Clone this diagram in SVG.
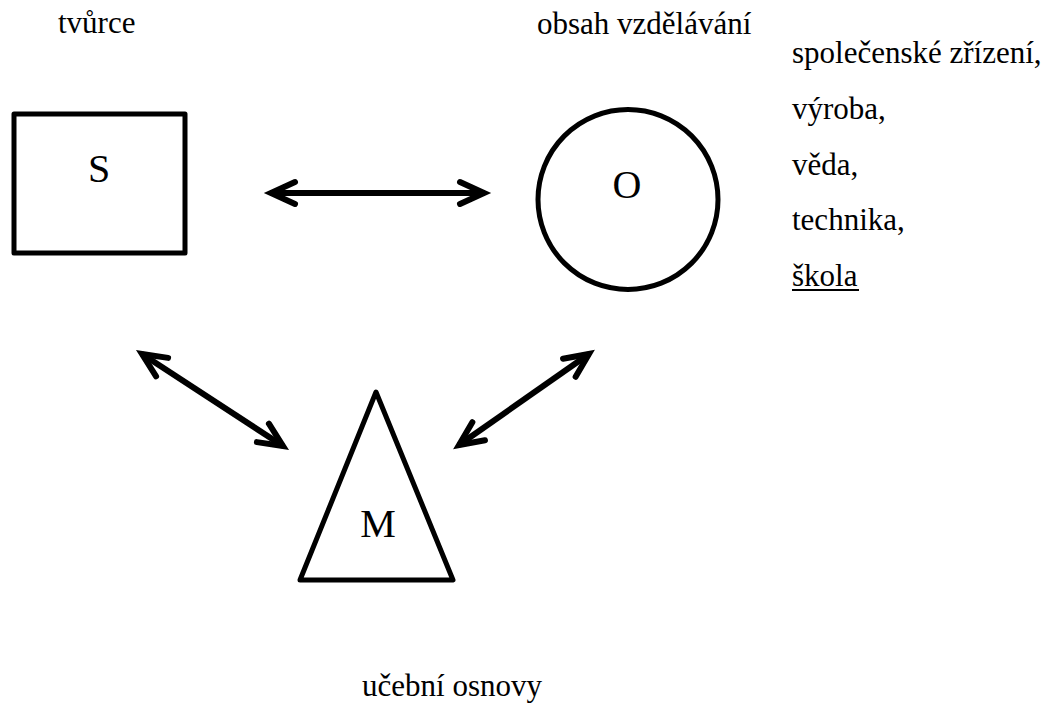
<svg xmlns="http://www.w3.org/2000/svg" width="1050" height="704" viewBox="0 0 1050 704">
<style>
  text { font-family: 'Liberation Serif', 'Times New Roman', serif; fill: #000; }
  .lbl { font-size: 31px; }
  .big { font-size: 40px; text-anchor: middle; }
  .shape { fill: #fff; stroke: #000; stroke-width: 5; stroke-linejoin: round; }
  .conn { stroke: #000; stroke-width: 6; fill: none; }
</style>
<defs>
  <marker id="ah" markerUnits="userSpaceOnUse" viewBox="-30 -16 34 32" refX="0" refY="0" markerWidth="34" markerHeight="32" orient="auto-start-reverse" overflow="visible">
    <path d="M-24,-11 L0,0 L-24,11" fill="none" stroke="#000" stroke-width="6" stroke-linecap="round" stroke-linejoin="miter" stroke-miterlimit="10"/>
  </marker>
</defs>
<rect width="1050" height="704" fill="#fff"/>
<g id="node-S">
  <rect class="shape" x="14" y="114" width="171" height="139" stroke-linejoin="miter"/>
  <text class="big" x="99" y="182">S</text>
</g>
<g id="node-O">
  <circle class="shape" cx="628" cy="199.5" r="90"/>
  <text class="big" x="627" y="198">O</text>
</g>
<g id="node-M">
  <polygon class="shape" points="376,392 453,580 300,580"/>
  <text class="big" x="378" y="537">M</text>
</g>
<g id="labels">
  <text class="lbl" x="58" y="33">tvůrce</text>
  <text class="lbl" x="537" y="34">obsah vzdělávání</text>
  <text class="lbl" x="362" y="696">učební osnovy</text>
</g>
<g id="list">
  <text class="lbl" x="792" y="63">společenské zřízení,</text>
  <text class="lbl" x="792" y="119">výroba,</text>
  <text class="lbl" x="792" y="175">věda,</text>
  <text class="lbl" x="792" y="230">technika,</text>
  <text class="lbl" x="792" y="286">škola</text>
  <line x1="792" y1="290" x2="859" y2="290" stroke="#000" stroke-width="2"/>
</g>
<g id="connectors">
  <line class="conn" x1="271" y1="193" x2="484" y2="193" marker-start="url(#ah)" marker-end="url(#ah)"/>
  <line class="conn" x1="142" y1="354" x2="283" y2="446" marker-start="url(#ah)" marker-end="url(#ah)"/>
  <line class="conn" x1="459" y1="445" x2="589" y2="354" marker-start="url(#ah)" marker-end="url(#ah)"/>
</g>
</svg>
